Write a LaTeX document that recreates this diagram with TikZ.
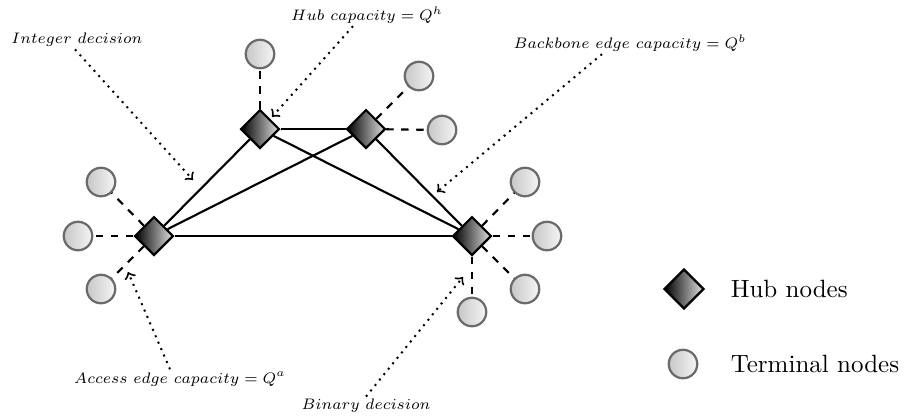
\documentclass[tikz,border=0pt]{standalone}
\usetikzlibrary{shapes.geometric}
\begin{document}
\begin{tikzpicture}[x=0.4pt,y=-0.4pt,
  hub/.style={diamond,draw=black,line width=0.9pt,left color=black,right color=black!12,inner sep=0pt,minimum size=15.5pt},
  term/.style={circle,draw=black!58,line width=0.9pt,left color=black!22,right color=black!4,inner sep=0pt,minimum size=11.4pt},
  bb/.style={line width=0.85pt},
  acc/.style={line width=0.85pt,dashed},
  lbl/.style={font=\scriptsize,scale=0.87,inner sep=1pt},
  pointer/.style={dotted,thick,->}]
\useasboundingbox (0,0) rectangle (907,416);
% hubs
\node[hub] (h1) at (260,129) {};
\node[hub] (h2) at (366,129) {};
\node[hub] (h3) at (154,236) {};
\node[hub] (h4) at (472,236) {};
% terminals
\node[term] (t1) at (260,54) {};
\node[term] (t2) at (419,76) {};
\node[term] (t3) at (442,130) {};
\node[term] (t4) at (101,182) {};
\node[term] (t5) at (78,236) {};
\node[term] (t6) at (101,289) {};
\node[term] (t7) at (525,182) {};
\node[term] (t8) at (547,236) {};
\node[term] (t9) at (525,289) {};
\node[term] (t10) at (472,312) {};
% backbone
\draw[bb] (h1) -- (h2);
\draw[bb] (h1) -- (h3);
\draw[bb] (h1) -- (h4);
\draw[bb] (h2) -- (h3);
\draw[bb] (h2) -- (h4);
\draw[bb] (h3) -- (h4);
% access
\draw[acc] (h1) -- (t1);
\draw[acc] (h2) -- (t2);
\draw[acc] (h2) -- (t3);
\draw[acc] (h3) -- (t4);
\draw[acc] (h3) -- (t5);
\draw[acc] (h3) -- (t6);
\draw[acc] (h4) -- (t7);
\draw[acc] (h4) -- (t8);
\draw[acc] (h4) -- (t9);
\draw[acc] (h4) -- (t10);
% labels
\node[lbl] (lint) at (77,40) {$Integer\ decision$};
\node[lbl] (lhub) at (367,15) {$Hub\ capacity = Q^h$};
\node[lbl] (lbb) at (630,43) {$Backbone\ edge\ capacity = Q^b$};
\node[lbl] (lacc) at (180,379) {$Access\ edge\ capacity = Q^a$};
\node[lbl] (lbin) at (366,406) {$Binary\ decision$};
\coordinate (pint) at (193,180);
\coordinate (phub) at (272,117);
\coordinate (pbb) at (437,192);
\coordinate (pacc) at (128,272);
\coordinate (pbin) at (463,277);
\draw[pointer] ([xshift=-0.8pt]lint.south) -- (pint);
\draw[pointer] ([xshift=-5.6pt]lhub.south) -- (phub);
\draw[pointer] ([xshift=-11.2pt]lbb.south) -- (pbb);
\draw[pointer] ([xshift=-4pt]lacc.north) -- (pacc);
\draw[pointer] (lbin.north) -- (pbin);
% legend
\node[hub,minimum size=16pt] (lh) at (684,289) {};
\node[term] (lt) at (683,364) {};
\node[anchor=west] (lht) at (722,289) {Hub nodes};
\node[anchor=west] (ltt) at (722,364) {Terminal nodes};
\end{tikzpicture}
\end{document}
